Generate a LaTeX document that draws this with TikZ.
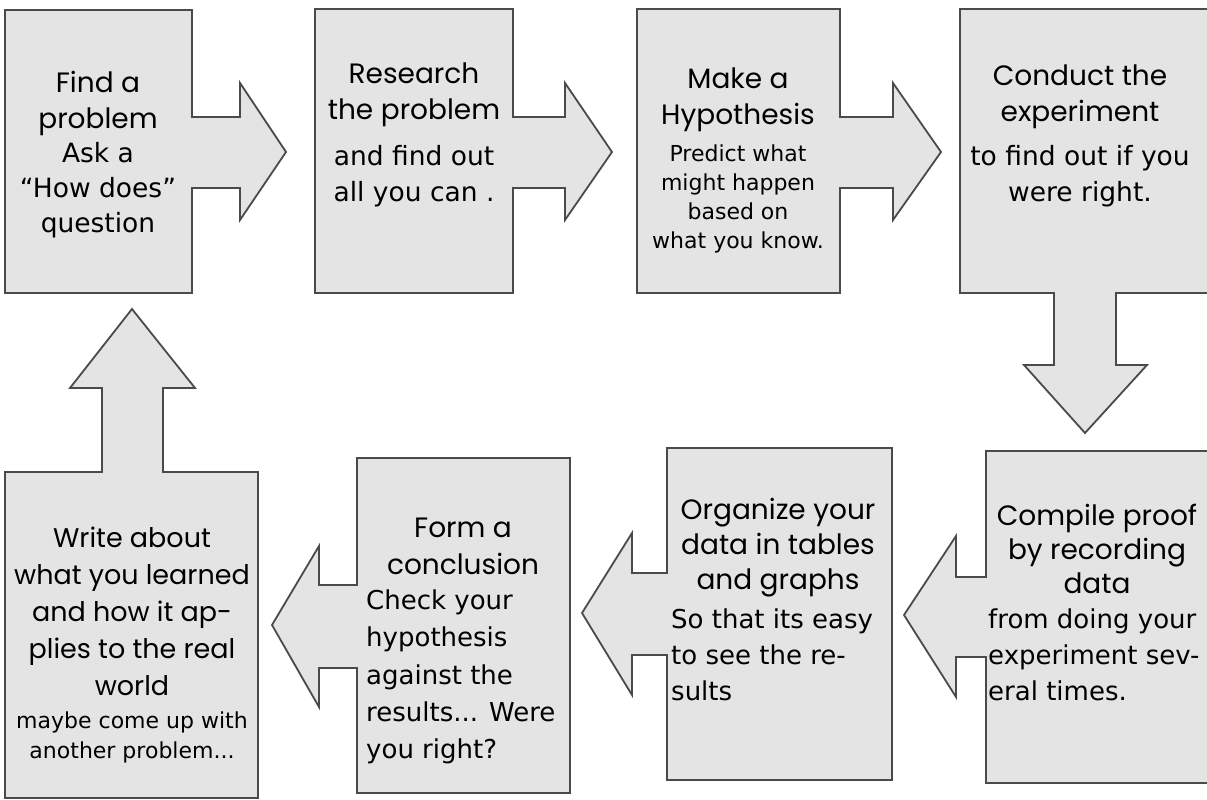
\documentclass[tikz,border=0pt]{standalone}
\usepackage{fontspec}
\setmainfont{DejaVu Sans}
\newfontfamily\titlefont{Poppins}
\definecolor{boxfill}{HTML}{E4E4E4}
\definecolor{boxline}{HTML}{4A4A4A}
\tikzset{
  shapebox/.style={fill=boxfill, draw=boxline, line width=1.8pt, line join=miter},
  ttl/.style={font=\titlefont\fontsize{28}{36}\selectfont, align=center, inner sep=0pt, text=black},
  bodyc/.style={font=\fontsize{26.5}{36}\selectfont, align=center, inner sep=0pt, text=black},
  bodys/.style={font=\fontsize{22}{29}\selectfont, align=center, inner sep=0pt, text=black},
  bodyl/.style={font=\fontsize{26}{36}\selectfont, align=left, inner sep=0pt, text=black},
}
\begin{document}
\begin{tikzpicture}[x=1pt,y=-1pt]
\useasboundingbox (0,0) rectangle (1207,800);
\clip (0,0) rectangle (1207,800);
% Box 1
\draw[shapebox] (5,10) -- (192,10) -- (192,117) -- (240,117) -- (240,83) -- (286,152) -- (240,220) -- (240,188) -- (192,188) -- (192,293) -- (5,293) -- cycle;
% Box 2
\draw[shapebox] (315,9) -- (513,9) -- (513,117) -- (565,117) -- (565,83) -- (612,152) -- (565,220) -- (565,188) -- (513,188) -- (513,293) -- (315,293) -- cycle;
% Box 3
\draw[shapebox] (637,9) -- (840,9) -- (840,117) -- (893,117) -- (893,83) -- (941,152) -- (893,220) -- (893,188) -- (840,188) -- (840,293) -- (637,293) -- cycle;
% Box 4
\draw[shapebox] (960,9) -- (1215,9) -- (1215,293) -- (1116,293) -- (1116,365) -- (1147,365) -- (1085,433) -- (1024,365) -- (1054,365) -- (1054,293) -- (960,293) -- cycle;
% Box 5
\draw[shapebox] (986,451) -- (1215,451) -- (1215,783) -- (986,783) -- (986,657) -- (956,657) -- (956,697) -- (904,615) -- (956,536) -- (956,577) -- (986,577) -- cycle;
% Box 6
\draw[shapebox] (667,448) -- (892,448) -- (892,780) -- (667,780) -- (667,655) -- (632,655) -- (632,695) -- (582,613) -- (632,533) -- (632,573) -- (667,573) -- cycle;
% Box 7
\draw[shapebox] (357,458) -- (570,458) -- (570,793) -- (357,793) -- (357,668) -- (319,668) -- (319,707) -- (272,625) -- (319,546) -- (319,585) -- (357,585) -- cycle;
% Box 8
\draw[shapebox] (5,472) -- (102,472) -- (102,388) -- (70,388) -- (132,309) -- (195,388) -- (163,388) -- (163,472) -- (258,472) -- (258,798) -- (5,798) -- cycle;

% texts
\node[ttl] (t1) at (98,103) {Find a\\problem};
\node[bodyc, font=\fontsize{26.5}{35}\selectfont] (b1) at (98,190) {Ask a\\``How does''\\question};

\node[ttl] (t2) at (414,95) {Research\\the problem};
\node[bodyc] (b2) at (414,176) {and find out\\all you can .};

\node[ttl] (t3) at (738,100) {Make a\\Hypothesis};
\node[bodys] (b3) at (738,199) {Predict what\\might happen\\based on\\what you know.};

\node[ttl] (t4) at (1080,97) {Conduct the\\experiment};
\node[bodyc] (b4) at (1080,176) {to find out if you\\were right.};

\node[ttl, font=\titlefont\fontsize{28}{34}\selectfont] (t5) at (1097,549) {Compile proof\\by recording\\data};
\node[bodyl, anchor=west] (b5) at (988,655) {from doing your\\experiment sev-\\eral times.};

\node[ttl, font=\titlefont\fontsize{28}{35}\selectfont] (t6) at (778,548) {Organize your\\data in tables\\and graphs};
\node[bodyl, anchor=west] (b6) at (671,655) {So that its easy\\to see the re-\\sults};

\node[ttl, font=\titlefont\fontsize{28}{37}\selectfont] (t7) at (463,546) {Form a\\conclusion};
\node[bodyl, font=\fontsize{26}{37.2}\selectfont, anchor=west] (b7) at (366,677) {Check your\\hypothesis\\against the\\results... Were\\you right?};

\node[ttl, font=\titlefont\fontsize{27}{37}\selectfont] (t8) at (132,611) {Write about\\what you learned\\and how it ap-\\plies to the real\\world};
\node[bodys, font=\fontsize{22}{30}\selectfont] (b8) at (132,737) {maybe come up with\\another problem...};
\end{tikzpicture}
\end{document}
